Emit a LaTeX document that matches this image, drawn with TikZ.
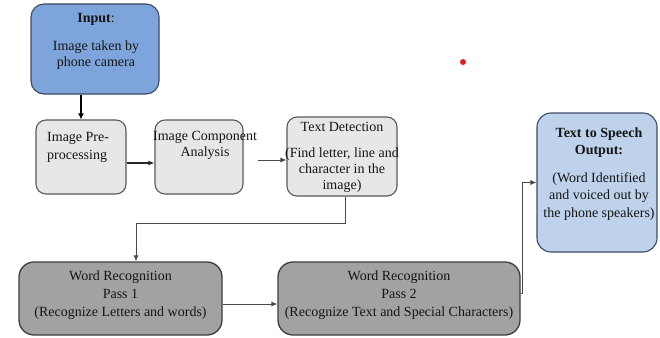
\documentclass[tikz,border=0pt]{standalone}
\usepackage{fontspec}
\setmainfont{Liberation Serif}
\usetikzlibrary{arrows.meta,calc}
\definecolor{inblue}{HTML}{7DA5DC}
\definecolor{ttsblue}{HTML}{BED2EB}
\definecolor{bluedraw}{HTML}{3C4A66}
\definecolor{lightgrey}{HTML}{E8E6E8}
\definecolor{greydraw}{HTML}{5A5A5A}
\definecolor{passgrey}{HTML}{A2A2A2}
\definecolor{passdraw}{HTML}{3E3E3E}
\definecolor{textcol}{HTML}{151515}
\definecolor{conncol}{HTML}{4A4A4A}
\definecolor{dotred}{HTML}{E0201E}
\begin{document}
\begin{tikzpicture}[x=1pt,y=-1pt,
  roundbase/.style={inner sep=0pt, line width=1.1pt},
  bluebox/.style={roundbase, draw=bluedraw, fill=inblue, rounded corners=13pt},
  greybox/.style={roundbase, draw=greydraw, fill=lightgrey, rounded corners=10pt},
  passbox/.style={roundbase, draw=passdraw, fill=passgrey, rounded corners=15pt, line width=1.3pt},
  ttsbox/.style={roundbase, draw=bluedraw, fill=ttsblue, rounded corners=14pt},
  txt/.style={inner sep=0pt, font=\fontsize{14}{17}\selectfont, text=textcol, align=center, anchor=north},
  conn/.style={draw=conncol, line width=0.8pt, -{Latex[length=6pt,width=5pt]}},
  thickconn/.style={draw=black, line width=1.8pt, -{Latex[length=6pt,width=6pt]}},
  midconn/.style={draw=black!85, line width=1.5pt, -{Latex[length=6pt,width=5pt]}}
]
\useasboundingbox[fill=white] (0,0) rectangle (660,337);

% boxes
\node[bluebox, minimum width=128pt, minimum height=90pt] (input) at (95,49) {};
\node[greybox, minimum width=90pt, minimum height=74pt] (pre) at (81,157) {};
\node[greybox, minimum width=88pt, minimum height=74pt] (comp) at (199,157) {};
\node[greybox, minimum width=110pt, minimum height=79pt] (td) at (342,156.5) {};
\node[passbox, minimum width=203pt, minimum height=73pt] (pass1) at (120.5,298.5) {};
\node[passbox, minimum width=242pt, minimum height=73pt] (pass2) at (399,298.5) {};
\node[ttsbox, minimum width=120pt, minimum height=139pt] (tts) at (597,182.5) {};

% texts
\node[txt] (inputtxt) at (96,10.1) {\strut\textbf{Input}:\\[11pt] Image taken by\\[-1pt] phone camera};
\node[txt, anchor=north west, align=left] (pretxt) at (47,129.1) {\strut Image Pre-\\[1pt] processing};
\node[txt] (comptxt) at (205,128.1) {\strut Image Component\\[-1pt] Analysis};
\node[txt] (tdtxt) at (342,119.1) {\strut Text Detection\\[9pt] (Find letter, line and\\[-1pt] character in the\\[-1pt] image)};
\node[txt] (pass1txt) at (120.5,268.1) {\strut Word Recognition\\[1pt] Pass 1\\[1pt] (Recognize Letters and words)};
\node[txt] (pass2txt) at (399,268.1) {\strut Word Recognition\\[1pt] Pass 2\\[1pt] (Recognize Text and Special Characters)};
\node[txt] (ttstxt) at (599,125.1) {\strut\textbf{Text to Speech}\\ \textbf{Output:}\\[11pt] (Word Identified\\[0pt] and voiced out by\\[1pt] the phone speakers)};

% red dot
\fill[dotred] (463,62) circle (3pt);

% connectors
\draw[thickconn] (input.south -| pre.north) -- (pre.north);
\draw[midconn] ([yshift=-6pt]pre.east) -- ([yshift=-6pt]pre.east -| comp.west);
\draw[conn, shorten <=14pt] ([yshift=-3pt]comp.east) -- ([yshift=-3pt]comp.east -| td.west);
\draw[conn] ([xshift=3pt]td.south) -- ++(0,27) coordinate (tdbend) -| ([xshift=15.5pt]pass1.north);
\draw[conn] ([yshift=-5.5pt]pass1.east) -- ([yshift=-5.5pt]pass1.east -| pass2.west);
\draw[conn] ([yshift=5.5pt]pass2.east) -- ++(2,0) coordinate (p2bend) |- (tts.west);
\end{tikzpicture}
\end{document}
